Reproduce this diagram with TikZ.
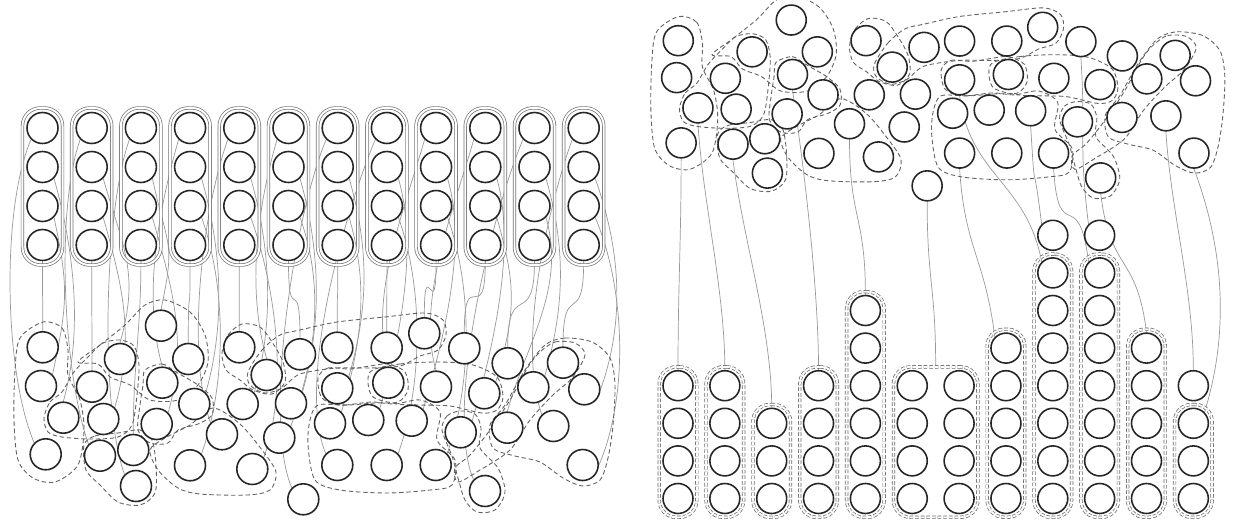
\documentclass[tikz,border=0pt]{standalone}
\usetikzlibrary{fit,backgrounds}

% positions of one cluster of 48 balls (pixels of the left half)
\newcommand{\clusterballs}[1]{%
  \foreach \x/\y [count=\i] in {42.7/347.3, 41/386, 63.3/417.7, 45.7/454.3,
      120/359, 92/386.7, 103.3/419, 161/325.7, 188.3/359, 162.3/382.7,
      194.3/404, 156.7/424, 100/455.7, 133.3/450, 136/486, 190/465.3,
      222/434.3, 239.3/347.3, 266.7/375, 242.7/404, 291/403.3, 300/354.3,
      279.3/437.7, 252.3/469, 303.3/499.3, 337.3/347.7, 386.7/347.7,
      424.3/333.3, 464.3/348.3, 507.7/363.3, 563/362.7, 337.3/388.3,
      388.3/382.7, 436/386.7, 484.3/393.3, 533.3/387.3, 584.3/389.3,
      330/423.3, 368.3/420, 411.7/420.7, 460.7/432.3, 507.3/427.7,
      553.3/426, 337.3/465, 386.7/465, 435.7/465, 485/491, 582.7/465}
    \node[ball] (#1\i) at (\x,\y) {};
}

% dashed groups drawn round the cluster
\newcommand{\clusterblobs}{%
  \draw[blob] plot[smooth cycle] coordinates {(43,322) (62,328) (68,350) (68,375) (80,400) (84,430) (78,465) (55,482) (33,478) (18,460) (14,420) (15,370) (20,338)};
  \draw[blob] plot[smooth cycle] coordinates {(44,418) (50,402) (62,392) (74,372) (90,355) (103,343) (120,340) (134,346) (139,365) (137,395) (132,425) (118,437) (90,439) (62,437) (48,432)};
  \draw[blob] plot[smooth cycle] coordinates {(78,362) (100,345) (125,325) (145,305) (165,300) (190,312) (205,335) (208,362) (198,385) (178,400) (150,400) (130,385) (110,377) (98,364)};
  \draw[blob] plot[smooth cycle] coordinates {(145,370) (162,364) (176,372) (198,385) (212,398) (212,415) (198,424) (178,430) (168,443) (150,443) (138,430) (140,405) (143,385)};
  \draw[blob] plot[smooth cycle] coordinates {(213,408) (240,424) (262,450) (276,472) (270,490) (247,495) (200,494) (178,488) (158,470) (150,450) (165,438) (190,425)};
  \draw[blob] plot[smooth cycle] coordinates {(84,445) (95,436) (118,433) (140,430) (152,440) (156,465) (155,493) (140,505) (118,502) (100,485) (86,470)};
  \draw[blob] plot[smooth cycle] coordinates {(222,353) (228,335) (242,324) (260,327) (272,342) (283,362) (285,382) (272,394) (253,390) (240,380) (226,370)};
  \draw[blob] plot[smooth cycle] coordinates {(248,372) (262,350) (280,335) (300,330) (337,322) (385,317) (425,313) (443,320) (446,335) (438,350) (420,356) (400,366) (370,368) (337,368) (300,374) (282,388) (265,393) (250,385)};
  \draw[blob] plot[smooth cycle] coordinates {(318,405) (345,405) (372,402) (395,404) (420,400) (440,412) (437,440) (455,460) (452,485) (430,490) (387,493) (340,490) (315,480) (308,445) (310,420)};
  \draw[blob] plot[smooth cycle] coordinates {(318,378) (328,368) (350,369) (370,366) (388,364) (405,372) (408,390) (398,402) (375,403) (340,405) (322,398)};
  \draw[blob] plot[smooth cycle] coordinates {(370,372) (400,364) (440,362) (473,365) (497,377) (503,397) (497,410) (482,413) (450,406) (420,405) (398,404) (372,396)};
  \draw[blob] plot[smooth cycle] coordinates {(442,430) (447,416) (460,411) (475,414) (481,428) (480,448) (498,468) (505,492) (495,510) (477,512) (465,500) (458,478) (452,456)};
  \draw[blob] plot[smooth cycle] coordinates {(545,345) (565,338) (592,342) (610,358) (615,385) (613,425) (608,458) (600,480) (583,486) (563,478) (540,462) (515,456) (493,448) (490,425) (505,405) (525,370)};
  \draw[blob] plot[smooth cycle] coordinates {(540,352) (555,342) (575,343) (585,355) (572,378) (553,395) (530,420) (510,450) (480,470) (458,482) (455,468) (470,455) (490,430) (510,400) (528,367)};
}

\begin{document}
\begin{tikzpicture}[x=0.02cm, y=-0.02cm,
    ball/.style={circle, draw=black!85, line width=0.9pt, fill=white, minimum size=0.62cm, inner sep=0pt},
    colbox/.style={draw=black!55, line width=0.4pt, double, double distance=1.1pt, rounded corners=0.36cm, inner sep=0.075cm},
    dashbox/.style={draw=black!60, line width=0.4pt, double, double distance=1.1pt, dash pattern=on 2pt off 1.2pt, rounded corners=0.34cm, inner sep=0.06cm},
    blob/.style={draw=black!62, line width=0.5pt, dash pattern=on 2.5pt off 1.6pt},
    link/.style={draw=black!40, line width=0.4pt}]
  \useasboundingbox (0,0) rectangle (1238,521);

  % left half: twelve columns of four
  \foreach \c in {1,...,12} {
    \foreach \r/\y in {1/128, 2/167, 3/206, 4/245}
      \node[ball] (t\c-\r) at ({42.5+49.2*(\c-1)},\y) {};
    \node[colbox, fit=(t\c-1) (t\c-4)] (col\c) {};
  }
  % left half: the cluster
  \clusterballs{l}

  % right half: the same cluster, a little smaller
  \begin{scope}[shift={(637.5,-291)}, scale=0.955, ball/.append style={minimum size=0.6cm}]
    \clusterballs{r}
  \end{scope}

  % right half: columns at the bottom
  \begin{scope}[ball/.append style={minimum size=0.6cm}]
    \foreach \c/\n in {0/4, 1/4, 2/3, 3/4, 4/6, 5/4, 6/4, 7/5, 8/8, 9/8, 10/5, 11/4} {
      \pgfmathtruncatemacro\nlast{\n-1}
      \foreach \k in {0,...,\nlast}
        \node[ball] (b\c-\k) at ({678+46.85*\c},{498.5-37.6*\k}) {};
    }
    \foreach \a/\b in {0-0/0-3, 1-0/1-3, 2-0/2-2, 3-0/3-3, 4-0/4-5, 5-0/6-3, 7-0/7-4, 8-0/8-6, 9-0/9-6, 10-0/10-4, 11-0/11-2}
      \node[dashbox, fit=(b\a) (b\b)] (box\a) {};
  \end{scope}

  \begin{scope}[on background layer]
    % links, left half
    \foreach \s/\t/\a/\h/\e in {1-1/4/south west/-30/north west, 1-2/3/south east/20/north,
        1-3/2/south east/15/north east, 1-4/1/south/0/north,
        2-1/13/south west/-25/north west, 2-2/5/south east/20/north,
        2-3/7/south east/20/north east, 2-4/6/south/0/north,
        3-1/15/south west/-25/north west, 3-2/8/south east/15/north,
        3-3/12/south east/20/north east, 3-4/14/south/0/north,
        4-1/10/south west/-20/north, 4-2/11/south east/20/north east,
        4-3/16/south east/25/north east, 4-4/9/south/0/north,
        5-1/17/south west/-25/north west, 5-2/20/south east/20/north east,
        5-3/24/south east/25/north east, 5-4/18/south/0/north,
        6-1/19/south west/-20/north, 6-2/21/south east/20/north east,
        6-3/23/south east/25/north east, 6-4/22/south/0/north,
        7-1/25/south west/-30/north west, 7-2/32/south east/20/north east,
        7-3/38/south east/20/north east, 7-4/26/south/0/north,
        8-1/44/south west/-30/north west, 8-2/39/south east/20/north east,
        8-3/45/south east/25/north east, 8-4/27/south/0/north,
        9-1/33/south west/-20/north, 9-2/40/south east/20/north east,
        9-3/46/south east/25/north east, 9-4/28/south/0/north,
        10-1/34/south west/-20/north, 10-2/41/south east/20/north east,
        10-3/35/south east/20/north east, 10-4/29/south/0/north,
        11-1/47/south west/-30/north west, 11-2/36/south east/20/north east,
        11-3/42/south east/20/north, 11-4/30/south/0/north,
        12-1/43/south west/-25/north west, 12-2/37/south east/25/east,
        12-3/48/south east/30/east, 12-4/31/south/0/north}
      \draw[link] (t\s.\a) .. controls +(\h,70) and +(\h,-70) .. (l\t.\e);
    % links, right half
    \foreach \s/\t/\h/\v in {4/b0-3.north/0/0, 3/b1-3.north/5/0, 13/b2-2.north/10/0,
        10/b3-3.north/12/0, 17/b4-5.north/0/0, 25/box5-0.north/0/0,
        44/b7-4.north west/5/-10, 32/b8-6.north west/10/-15, 40/b8-7.north west/5/-10,
        46/b9-6.north west/5/-10, 29/b9-7.north west/5/-10, 47/b10-4.north/10/-10,
        43/b11-3.north/5/0, 48/b11-2.north east/30/25}
      \draw[link] (r\s.south) .. controls +(\h,80) and +(\v,-80) .. (\t);
    % groups
    \clusterblobs
    \begin{scope}[shift={(637.5,-291)}, scale=0.955]
      \clusterblobs
    \end{scope}
  \end{scope}
\end{tikzpicture}
\end{document}
